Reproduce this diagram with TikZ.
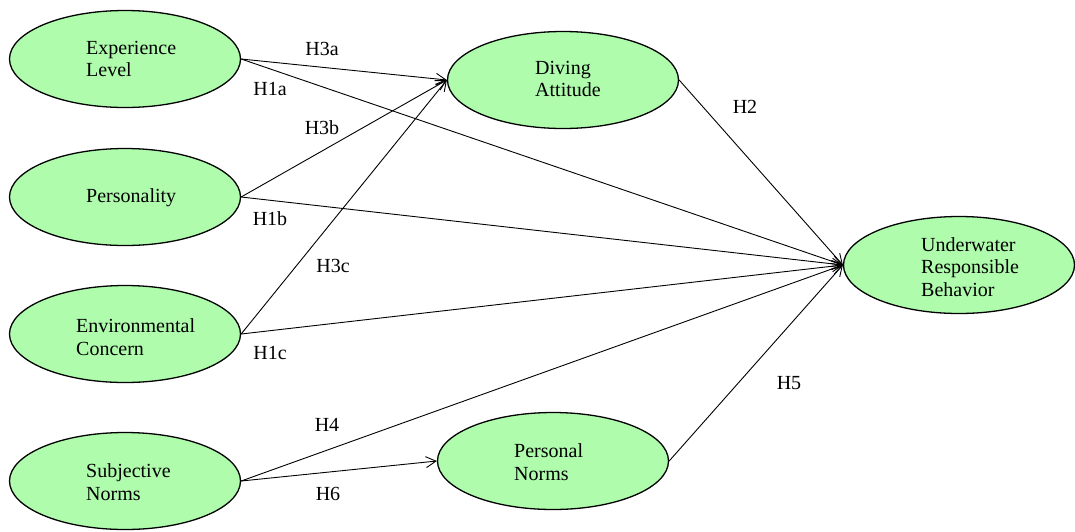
\documentclass[tikz,border=0pt]{standalone}
\usepackage{fontspec}
\setmainfont{Liberation Serif}
\usetikzlibrary{shapes.geometric,arrows.meta}
\definecolor{constructfill}{RGB}{174,252,172}
\begin{document}
\begin{tikzpicture}[x=1pt,y=-1pt,
  construct/.style={ellipse,draw=black,line width=1.3pt,fill=constructfill,
    minimum width=231pt,minimum height=97pt,inner sep=0pt},
  ctext/.style={anchor=west,align=left,inner sep=0pt,
    font=\fontsize{20}{22.5}\selectfont},
  hyp/.style={inner sep=0pt,font=\fontsize{20}{22.5}\selectfont},
  link/.style={line width=0.9pt,-{Straight Barb[length=10pt,width=11pt,line width=0.9pt]}}]
\useasboundingbox (0,0) rectangle (1075,531);

% constructs
\node[construct] (exp) at (125,59)  {};
\node[construct] (per) at (125,197) {};
\node[construct] (env) at (125,334) {};
\node[construct] (sub) at (125,481) {};
\node[construct] (att) at (563,80)  {};
\node[construct] (pno) at (553,461) {};
\node[construct] (urb) at (959,265) {};

\node[ctext] (expT) at (86,59)  {Experience\\Level};
\node[ctext] (perT) at (86,198) {Personality};
\node[ctext] (envT) at (76,337) {Environmental\\Concern};
\node[ctext] (subT) at (86,482) {Subjective\\Norms};
\node[ctext] (attT) at (535,79) {Diving\\Attitude};
\node[ctext] (pnoT) at (514,462) {Personal\\Norms};
\node[ctext] (urbT) at (921,267) {Underwater\\Responsible\\Behavior};

% hypothesised paths
\draw[link] (exp.east) -- (att.west);
\draw[link] (exp.east) -- (urb.west);
\draw[link] (per.east) -- (att.west);
\draw[link] (per.east) -- (urb.west);
\draw[link] (env.east) -- (att.west);
\draw[link] (env.east) -- (urb.west);
\draw[link] (sub.east) -- (urb.west);
\draw[link] (sub.east) -- (pno.west);
\draw[link] (att.east) -- (urb.west);
\draw[link] (pno.east) -- (urb.west);

% hypothesis labels
\node[hyp] (h3a) at (322,49)  {H3a};
\node[hyp] (h1a) at (270,89)  {H1a};
\node[hyp] (h3b) at (322,128) {H3b};
\node[hyp] (h1b) at (270,219) {H1b};
\node[hyp] (h3c) at (333,266) {H3c};
\node[hyp] (h1c) at (270,353) {H1c};
\node[hyp] (h4)  at (327,425) {H4};
\node[hyp] (h6)  at (328,494) {H6};
\node[hyp] (h2)  at (745,107) {H2};
\node[hyp] (h5)  at (789,383) {H5};
\end{tikzpicture}
\end{document}
